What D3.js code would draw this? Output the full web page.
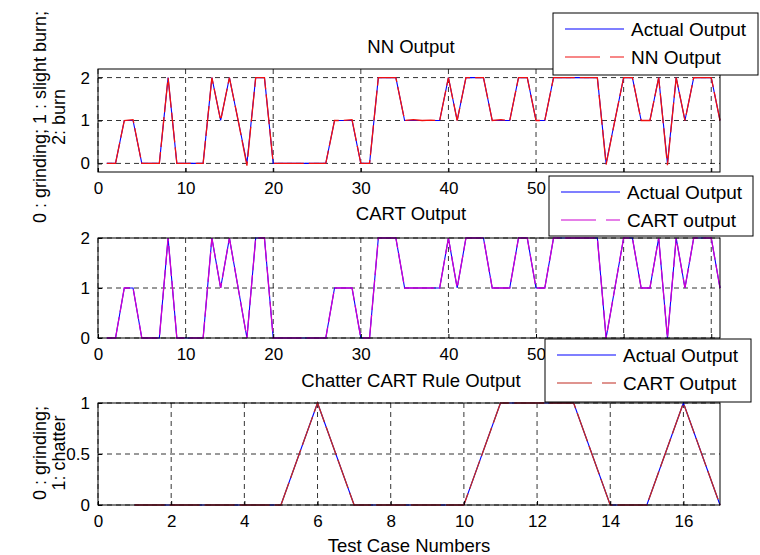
<!DOCTYPE html>
<html>
<head>
<meta charset="utf-8">
<script src="https://cdn.jsdelivr.net/npm/d3@7"></script>
<style>
  body { margin: 0; background: #fff; }
  text { font-family: "Liberation Sans", Arial, sans-serif; fill: #000; }
</style>
</head>
<body>
<div id="chart"></div>
<script>
// burn classes: 0 grinding, 1 slight burn, 2 burn
const burnActual = [0,0,1,1,0,0,0,2,0,0, 0,0,2,1,2,1,0,2,2,0, 0,0,0,0,0,0,1,1,1,0,
  0,2,2,2,1,1,1,1,1,2, 1,2,2,2,1,1,1,2,2,1, 1,2,2,2,2,2,2,0,1,2, 2,1,1,2,0,2,1,2,2,2,1];
const burnNN = [0,0,1,1.02,0,0,0,2,0,0, 0,0,2,1,2,1,-0.05,2,2,0, 0,0,0,0,0,0,1,1,1.02,0,
  0,2,2,2,1,1.02,1,1.01,1,2, 1,2,2,2,1,1.02,1,2,2,1, 1,2,2,2,2,2,2,-0.03,1,2, 2,1,1,2,-0.04,2,1,2,2,2,1];
const burnCART = [0,0,1,1,0,0,0,2,0,0, 0,0,2,1,2,1,0,2,2,0, 0,0,0,0,0,0,1,1,1,0,
  0,2,2,2,1,1,1,1,1,2, 1,2,2,2,1,1,1,2,2,1, 1,2,2,2,2,2,2,0,1,2, 2,1,1,2,0,2,1,2,2,2,1];
// chatter: 0 grinding, 1 chatter
const chatterActual = [0,0,0,0,0,1,0,0,0,0,1,1,1,0,0,1,0];
const chatterCART = [0,0,0,0,0,1,0,0,0,0,1,1,1,0,0,1,0];

const burnXTicks = [0,10,20,30,40,50,60,70];
const burnYTicks = [0,1,2];
const chatterXTicks = [0,2,4,6,8,10,12,14,16];
const chatterYTicks = [0,0.5,1];

const W = 760, H = 555;
const LEFT = 98, RIGHT = 720;

const svg = d3.select('#chart').append('svg')
  .attr('width', W).attr('height', H);

function panel(opt) {
  const x = d3.scaleLinear().domain(opt.xDomain).range([LEFT, RIGHT]);
  const y = d3.scaleLinear().domain(opt.yDomain).range([opt.bottom, opt.top]);
  const g = svg.append('g');

  // dashed grid
  g.selectAll('.gx').data(opt.xTicks).enter().append('line')
    .attr('x1', d => x(d)).attr('x2', d => x(d))
    .attr('y1', opt.top).attr('y2', opt.bottom)
    .attr('stroke', '#000').attr('stroke-width', 0.8).attr('stroke-dasharray', '5,4');
  g.selectAll('.gy').data(opt.yTicks).enter().append('line')
    .attr('x1', LEFT).attr('x2', RIGHT)
    .attr('y1', d => y(d)).attr('y2', d => y(d))
    .attr('stroke', '#000').attr('stroke-width', 0.8).attr('stroke-dasharray', '5,4');

  const line = d3.line().x((d, i) => x(i + 1)).y(d => y(d));
  g.append('path').datum(opt.actual)
    .attr('d', line).attr('fill', 'none')
    .attr('stroke', '#0000ff').attr('stroke-width', 1.1);
  g.append('path').datum(opt.model)
    .attr('d', line).attr('fill', 'none')
    .attr('stroke', opt.color).attr('stroke-width', 1.3)
    .attr('stroke-dasharray', '30,5');

  // axes (matlab style, ticks inside)
  const fmt = d3.format('~g');
  const xAxis = g.append('g').attr('transform', `translate(0,${opt.bottom})`)
    .call(d3.axisBottom(x).tickValues(opt.xTicks).tickFormat(fmt)
      .tickSize(-4).tickSizeOuter(0).tickPadding(10));
  const yAxis = g.append('g').attr('transform', `translate(${LEFT},0)`)
    .call(d3.axisLeft(y).tickValues(opt.yTicks).tickFormat(fmt)
      .tickSize(-4).tickSizeOuter(0).tickPadding(8));
  [xAxis, yAxis].forEach(a => {
    a.select('.domain').remove();
    a.selectAll('text').style('font-size', '17px')
      .style('font-family', '"Liberation Sans", Arial, sans-serif');
  });
  g.append('rect')
    .attr('x', LEFT).attr('y', opt.top)
    .attr('width', RIGHT - LEFT).attr('height', opt.bottom - opt.top)
    .attr('fill', 'none').attr('stroke', '#000').attr('stroke-width', 1);

  g.append('text')
    .attr('x', (LEFT + RIGHT) / 2 + 2).attr('y', opt.titleY)
    .attr('text-anchor', 'middle').style('font-size', '18.5px')
    .text(opt.title);

  // legend
  const L = opt.legend;
  const lg = g.append('g').attr('transform', `translate(${L.x},${L.y})`);
  lg.append('rect').attr('width', L.w).attr('height', L.h)
    .attr('fill', '#fff').attr('stroke', '#000').attr('stroke-width', 1);
  const items = [['Actual Output', '#0000ff', null], [L.label, opt.color, '35,10']];
  items.forEach((it, i) => {
    const ly = 16 + i * 28;
    lg.append('line').attr('x1', 12).attr('x2', 71).attr('y1', ly).attr('y2', ly)
      .attr('stroke', it[1]).attr('stroke-width', 1.1)
      .attr('stroke-dasharray', it[2]);
    lg.append('text').attr('x', 78).attr('y', ly + 7)
      .style('font-size', '19px').text(it[0]);
  });
  return g;
}

panel({
  xDomain: [0, 71], yDomain: [-0.2, 2.2], top: 69, bottom: 172,
  xTicks: burnXTicks, yTicks: burnYTicks,
  actual: burnActual, model: burnNN, color: '#f01010',
  title: 'NN Output', titleY: 53,
  legend: { x: 553, y: 13, w: 205, h: 62, label: 'NN Output' }
});
panel({
  xDomain: [0, 71], yDomain: [0, 2], top: 238, bottom: 338,
  xTicks: burnXTicks, yTicks: burnYTicks,
  actual: burnActual, model: burnCART, color: '#cc00d0',
  title: 'CART Output', titleY: 220,
  legend: { x: 549, y: 176, w: 204, h: 60, label: 'CART output' }
});
panel({
  xDomain: [0, 17], yDomain: [0, 1], top: 403, bottom: 505,
  xTicks: chatterXTicks, yTicks: chatterYTicks,
  actual: chatterActual, model: chatterCART, color: '#c02a20',
  title: 'Chatter CART Rule Output', titleY: 387,
  legend: { x: 545, y: 339, w: 206, h: 63, label: 'CART Output' }
});

// y labels
function yLabel(lines, cy) {
  lines.forEach((s, i) => {
    svg.append('text')
      .attr('transform', `translate(${46 + i * 19},${cy}) rotate(-90)`)
      .attr('text-anchor', 'middle').style('font-size', '18px')
      .text(s);
  });
}
yLabel(['0 : grinding; 1 : slight burn;', '2: burn'], 117);
yLabel(['0 : grinding;', '1: chatter'], 453);

svg.append('text')
  .attr('x', (LEFT + RIGHT) / 2).attr('y', 552)
  .attr('text-anchor', 'middle').style('font-size', '18.5px')
  .text('Test Case Numbers');
</script>
</body>
</html>
